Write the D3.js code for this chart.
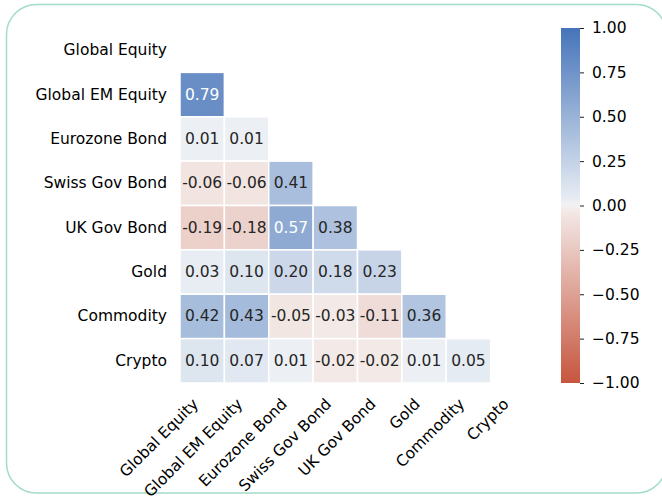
<!DOCTYPE html>
<html>
<head>
<meta charset="utf-8">
<script src="https://cdn.jsdelivr.net/npm/d3@7"></script>
<style>
  body { margin: 0; background: #fff; }
  svg { display: block; font-family: "DejaVu Sans", sans-serif; }
</style>
</head>
<body>
<svg id="chart" width="662" height="496"></svg>
<script>
// assets in the correlation matrix
const assets = [
  "Global Equity", "Global EM Equity", "Eurozone Bond", "Swiss Gov Bond",
  "UK Gov Bond", "Gold", "Commodity", "Crypto"
];
// lower triangle, one row per asset (diagonal and upper half are masked)
const corrRows = [
  [],
  [0.79],
  [0.01, 0.01],
  [-0.06, -0.06, 0.41],
  [-0.19, -0.18, 0.57, 0.38],
  [0.03, 0.10, 0.20, 0.18, 0.23],
  [0.42, 0.43, -0.05, -0.03, -0.11, 0.36],
  [0.10, 0.07, 0.01, -0.02, -0.02, 0.01, 0.05]
];
const colorbarTicks = [-1, -0.75, -0.5, -0.25, 0, 0.25, 0.5, 0.75, 1];

const cells = [];
corrRows.forEach((row, i) => row.forEach((v, j) => cells.push({ row: assets[i], col: assets[j], value: v })));

const fs = 15.5;
const svg = d3.select("#chart");

// frame
svg.append("rect")
  .attr("x", 6.5).attr("y", 4.5)
  .attr("width", 660).attr("height", 488.5)
  .attr("rx", 30).attr("ry", 30)
  .attr("fill", "none")
  .attr("stroke", "#a3dcc8")
  .attr("stroke-width", 1.5);

const x = d3.scaleBand().domain(assets).range([180, 535]);
const y = d3.scaleBand().domain(assets).range([28, 383]);

// diverging palette (red -> light -> blue), blended in rgb like seaborn
const color = d3.scaleLinear()
  .domain([-1, -0.008, 0, 0.008, 1])
  .range(["#c6553e", "#f4ecea", "#f2f2f2", "#ecf0f5", "#4674b9"])
  .interpolate(d3.interpolateRgb)
  .clamp(true);

const lum = (c) => {
  const rgb = d3.rgb(c);
  const f = (u) => { u /= 255; return u <= 0.03928 ? u / 12.92 : Math.pow((u + 0.055) / 1.055, 2.4); };
  return 0.2126 * f(rgb.r) + 0.7152 * f(rgb.g) + 0.0722 * f(rgb.b);
};

// cells
svg.append("g")
  .selectAll("rect")
  .data(cells)
  .join("rect")
  .attr("x", (d) => x(d.col))
  .attr("y", (d) => y(d.row))
  .attr("width", x.bandwidth())
  .attr("height", y.bandwidth())
  .attr("fill", (d) => color(d.value))
  .attr("stroke", "#fff")
  .attr("stroke-width", 1.5);

// annotations
svg.append("g")
  .selectAll("text")
  .data(cells)
  .join("text")
  .attr("x", (d) => x(d.col) + x.bandwidth() / 2)
  .attr("y", (d) => y(d.row) + y.bandwidth() / 2)
  .attr("text-anchor", "middle")
  .attr("dominant-baseline", "central")
  .attr("font-size", fs)
  .attr("fill", (d) => (lum(color(d.value)) > 0.408 ? "#262626" : "#fff"))
  .text((d) => d3.format(".2f")(d.value).replace("\u2212", "-"));

// y labels
svg.append("g")
  .selectAll("text")
  .data(assets)
  .join("text")
  .attr("x", 167)
  .attr("y", (d) => y(d) + y.bandwidth() / 2)
  .attr("text-anchor", "end")
  .attr("dominant-baseline", "central")
  .attr("font-size", fs)
  .attr("fill", "#000")
  .text((d) => d);

// x labels, rotated 45
svg.append("g")
  .selectAll("text")
  .data(assets)
  .join("text")
  .attr("transform", (d) => `translate(${x(d) + x.bandwidth() / 2 - 3},${405}) rotate(-45)`)
  .attr("text-anchor", "end")
  .attr("font-size", fs)
  .attr("fill", "#000")
  .text((d) => d);

// colorbar
const cb = d3.scaleLinear().domain([-1, 1]).range([383, 28]);
const grad = svg.append("defs").append("linearGradient")
  .attr("id", "cbar").attr("x1", 0).attr("y1", 1).attr("x2", 0).attr("y2", 0);
grad.selectAll("stop")
  .data(d3.range(0, 1.0001, 0.02))
  .join("stop")
  .attr("offset", (t) => t)
  .attr("stop-color", (t) => color(-1 + 2 * t));

svg.append("rect")
  .attr("x", 561).attr("y", cb(1))
  .attr("width", 19).attr("height", cb(-1) - cb(1))
  .attr("fill", "url(#cbar)");

svg.append("g")
  .attr("transform", "translate(580,0)")
  .call(d3.axisRight(cb).tickValues(colorbarTicks).tickFormat(d3.format(".2f")).tickSize(4).tickPadding(8))
  .call((g) => g.select(".domain").remove())
  .call((g) => g.selectAll("line").attr("stroke", "#222"))
  .call((g) => g.selectAll("text").attr("font-size", fs).attr("fill", "#000").attr("font-family", "DejaVu Sans"));
</script>
</body>
</html>
